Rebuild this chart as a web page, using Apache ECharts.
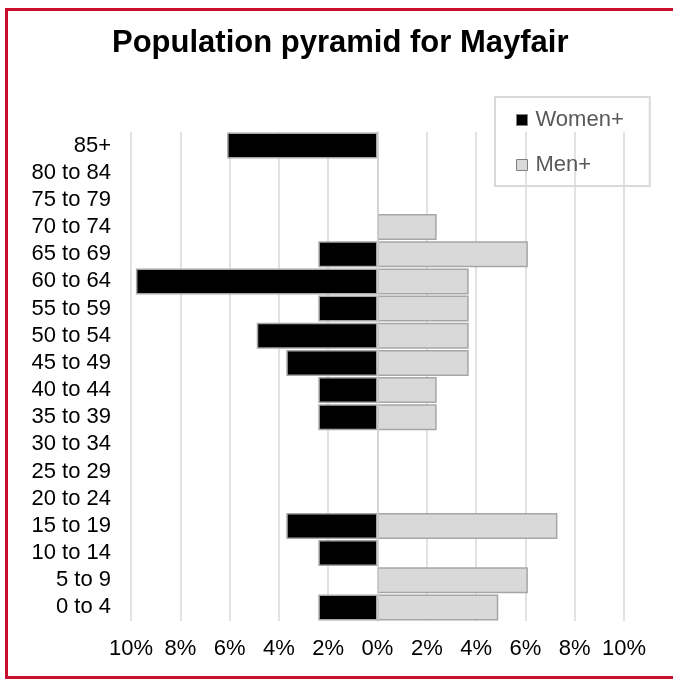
<!DOCTYPE html>
<html>
<head>
<meta charset="utf-8">
<script src="https://cdn.jsdelivr.net/npm/echarts@6/dist/echarts.min.js"></script>
<style>
  html, body { margin: 0; padding: 0; background: #fff; overflow: hidden; }
  #chart { width: 673px; height: 679px; }
  /* red frame, cut off on the right like the original */
  #frame {
    position: absolute; left: 5px; top: 8px; width: 700px; height: 665px;
    border: 3px solid #C8102E; border-right: none; pointer-events: none;
  }
</style>
</head>
<body>
<div id="chart"></div>
<div id="frame"></div>
<script>
// age groups, bottom to top
const ageGroups = ['0 to 4', '5 to 9', '10 to 14', '15 to 19', '20 to 24', '25 to 29', '30 to 34',
  '35 to 39', '40 to 44', '45 to 49', '50 to 54', '55 to 59', '60 to 64', '65 to 69',
  '70 to 74', '75 to 79', '80 to 84', '85+']
// percent of population (women drawn to the left)
const women = [2.4, 0, 2.4, 3.7, 0, 0, 0, 2.4, 2.4, 3.7, 4.9, 2.4, 9.8, 2.4, 0, 0, 0, 6.1]
const men = [4.9, 6.1, 0, 7.3, 0, 0, 0, 2.4, 2.4, 3.7, 3.7, 3.7, 3.7, 6.1, 2.4, 0, 0, 0]
const ticks = [-10, -8, -6, -4, -2, 0, 2, 4, 6, 8, 10]

const chart = echarts.init(document.getElementById('chart'))
const font = 'Liberation Sans, Arial, sans-serif'

// empty groups get no bar at all (otherwise the border shows as a sliver)
const bars = (arr, sign) => arr.map(v => (v === 0 ? null : sign * v))

chart.setOption({
  animation: false,
  title: {
    text: 'Population pyramid for Mayfair',
    left: 112,
    top: 28,
    padding: 0,
    textStyle: { fontFamily: font, fontSize: 31, fontWeight: 'bold', color: '#000' }
  },
  legend: {
    orient: 'vertical',
    left: 495,
    top: 97,
    padding: [12, 26, 10, 21],
    itemGap: 23,
    itemWidth: 11,
    itemHeight: 11,
    itemStyle: { borderColor: '#7f7f7f', borderWidth: 1 },
    borderColor: '#d9d9d9',
    borderWidth: 2,
    textStyle: { fontFamily: font, fontSize: 22, color: '#595959', padding: [0, 0, 0, 3] },
    data: [{ name: 'Women+', icon: 'rect' }, { name: 'Men+', icon: 'rect' }]
  },
  grid: { left: 131, right: 49, top: 132, bottom: 58 },
  xAxis: {
    type: 'value',
    min: ticks[0],
    max: ticks[ticks.length - 1],
    interval: 2,
    axisLine: { show: false },
    axisTick: { show: false },
    splitLine: { lineStyle: { color: '#d9d9d9', width: 1.5 } },
    axisLabel: {
      margin: 17,
      fontFamily: font, fontSize: 22, color: '#000',
      formatter: v => Math.abs(v) + '%'
    }
  },
  yAxis: {
    type: 'category',
    data: ageGroups,
    axisTick: { show: false },
    axisLine: { onZero: true, lineStyle: { color: '#d0d0d0', width: 1.5 } },
    axisLabel: { interval: 0, margin: 20, fontFamily: font, fontSize: 22, color: '#000' },
    z: 5
  },
  series: [
    {
      name: 'Women+',
      type: 'bar',
      stack: 'pop',
      barCategoryGap: '4%',
      data: bars(women, -1),
      itemStyle: { color: '#000', borderColor: '#a6a6a6', borderWidth: 1.5 }
    },
    {
      name: 'Men+',
      type: 'bar',
      stack: 'pop',
      barCategoryGap: '4%',
      data: bars(men, 1),
      itemStyle: { color: '#d9d9d9', borderColor: '#a6a6a6', borderWidth: 1.5 }
    }
  ]
})
</script>
</body>
</html>
